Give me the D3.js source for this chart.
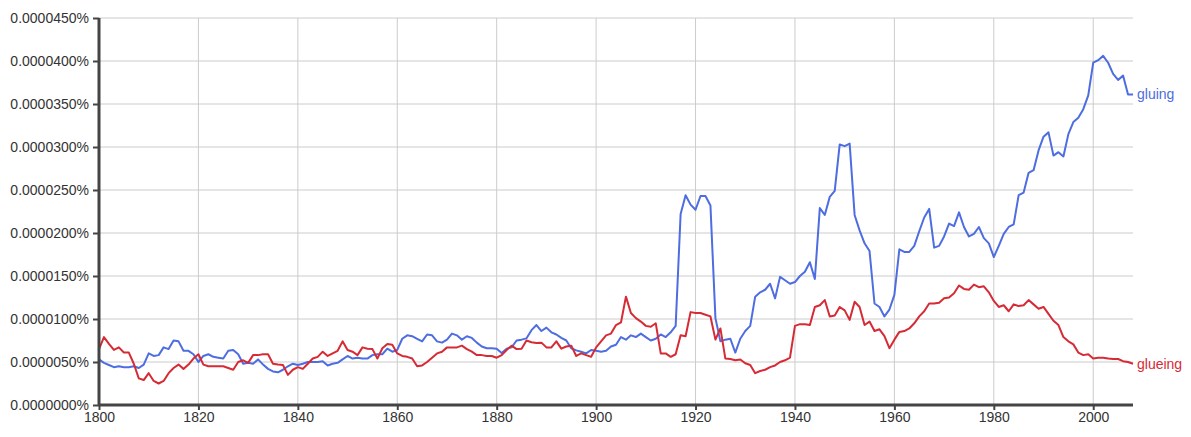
<!DOCTYPE html>
<html>
<head>
<meta charset="utf-8">
<script src="https://cdn.jsdelivr.net/npm/d3@7"></script>
<style>
body{margin:0;background:#fff;}
svg{display:block;font-family:"Liberation Sans",Arial,sans-serif;}
</style>
</head>
<body>
<svg id="chart" width="1191" height="437"></svg>
<script>
// Values in millionths of a percent (1 = 0.000001%)
const startYear = 1800;
const gluing = [
5.3,4.9,4.65,4.4,4.5,4.4,4.4,4.5,4.3,4.7,
6.0,5.7,5.8,6.7,6.5,7.5,7.4,6.3,6.3,5.9,
5.0,5.7,5.9,5.6,5.5,5.4,6.3,6.4,5.9,4.8,
4.9,4.8,5.3,4.7,4.2,3.9,3.8,4.1,4.5,4.8,
4.65,4.8,5.0,5.0,5.0,5.1,4.6,4.8,4.9,5.3,
5.7,5.4,5.5,5.4,5.4,5.8,5.9,5.9,6.55,6.2,
6.4,7.7,8.1,8.0,7.7,7.4,8.2,8.1,7.4,7.25,
7.6,8.3,8.1,7.6,8.0,7.8,7.25,6.8,6.6,6.6,
6.55,6.05,6.55,6.7,7.5,7.6,7.75,8.7,9.3,8.6,
9.0,8.45,8.2,7.8,7.5,6.6,6.35,6.2,6.0,6.4,
6.3,6.2,6.3,6.8,7.0,7.9,7.6,8.1,7.9,8.3,
7.9,7.5,7.7,8.2,7.9,8.45,9.2,22.2,24.4,23.3,
22.7,24.3,24.3,23.2,10.1,7.4,7.6,7.7,6.1,7.7,
8.6,9.2,12.6,13.1,13.4,14.1,12.4,14.9,14.5,14.1,
14.3,15.0,15.5,16.6,14.65,22.9,22.1,24.2,24.9,30.3,
30.1,30.4,22.1,20.3,18.8,17.9,11.8,11.4,10.3,11.1,
12.8,18.1,17.8,17.8,18.5,20.2,21.8,22.8,18.3,18.5,
19.6,21.1,20.8,22.4,20.7,19.6,19.9,20.7,19.4,18.8,
17.2,18.5,19.9,20.7,21.0,24.4,24.7,27.0,27.3,29.6,
31.2,31.7,29.0,29.4,28.9,31.5,32.9,33.4,34.4,36.0,
39.8,40.1,40.6,39.8,38.5,37.8,38.3,36.1,36.1
];
const glueing = [
6.5,7.9,7.1,6.4,6.7,6.1,6.1,4.8,3.1,2.9,
3.7,2.8,2.5,2.8,3.7,4.3,4.7,4.2,4.7,5.4,
5.9,4.7,4.5,4.5,4.5,4.5,4.3,4.1,5.0,5.2,
4.9,5.8,5.8,5.9,5.9,4.8,4.7,4.65,3.5,4.1,
4.4,4.2,4.8,5.4,5.6,6.2,5.7,6.0,6.3,7.4,
6.4,6.2,5.8,6.7,6.55,6.5,5.4,6.6,7.1,7.0,
6.0,5.7,5.6,5.4,4.5,4.6,5.0,5.5,6.0,6.2,
6.7,6.7,6.7,6.9,6.5,6.2,5.8,5.8,5.7,5.7,
5.5,5.8,6.4,6.9,6.5,6.55,7.5,7.3,7.2,7.25,
6.7,6.7,7.4,6.55,6.8,6.9,5.7,6.0,5.8,5.6,
6.7,7.4,8.1,8.3,9.3,9.6,12.6,10.7,10.1,9.7,
9.2,9.1,9.5,6.0,6.0,5.6,5.9,8.1,8.0,10.8,
10.7,10.7,10.5,10.3,7.6,8.9,5.4,5.35,5.2,5.3,
4.85,4.65,3.7,3.95,4.1,4.4,4.6,5.0,5.2,5.5,
9.2,9.4,9.4,9.3,11.4,11.6,12.2,10.3,10.4,11.4,
11.0,9.9,12.0,11.4,9.3,9.7,8.6,8.8,8.0,6.6,
7.6,8.5,8.6,8.9,9.5,10.3,10.9,11.8,11.8,11.9,
12.4,12.5,13.0,13.9,13.5,13.4,14.0,13.7,13.8,13.1,
12.1,11.4,11.6,10.9,11.7,11.5,11.6,12.2,11.7,11.2,
11.4,10.6,9.8,9.3,7.9,7.4,7.05,6.1,5.8,5.9,
5.4,5.5,5.5,5.4,5.35,5.35,5.1,5.0,4.8
];
const yTicks = [0,5,10,15,20,25,30,35,40,45];
const xTicks = [1800,1820,1840,1860,1880,1900,1920,1940,1960,1980,2000];
const seriesNames = ["gluing","glueing"];
const seriesColors = ["#4d6de0","#d62a35"];

const svg = d3.select("#chart");
const mLeft = 99, mRight = 1133, mTop = 18, mBottom = 405;
const years = gluing.map((_, i) => startYear + i);
const x = d3.scaleLinear().domain([1800, 2008]).range([mLeft, mRight]);
const y = d3.scaleLinear().domain([0, 45]).range([mBottom, mTop]);

// gridlines
svg.append("g").selectAll("line").data(yTicks.filter(d => d > 0)).join("line")
  .attr("x1", mLeft).attr("x2", mRight)
  .attr("y1", d => y(d)).attr("y2", d => y(d))
  .attr("stroke", "#cccccc").attr("stroke-width", 1);
svg.append("g").selectAll("line").data(xTicks.filter(d => d > 1800)).join("line")
  .attr("x1", d => x(d)).attr("x2", d => x(d))
  .attr("y1", mTop).attr("y2", mBottom)
  .attr("stroke", "#cccccc").attr("stroke-width", 1);

// lines
const line = d3.line().x((d, i) => x(years[i])).y(d => y(d));
[gluing, glueing].forEach((s, k) => {
  svg.append("path").datum(s).attr("d", line)
    .attr("fill", "none").attr("stroke", seriesColors[k])
    .attr("stroke-width", 2).attr("stroke-linejoin", "round");
  svg.append("text")
    .attr("x", x(2008) + 4).attr("y", y(s[s.length - 1]))
    .attr("dy", "0.35em")
    .attr("fill", seriesColors[k]).attr("font-size", 14)
    .text(seriesNames[k]);
});

// axes
const yAxis = d3.axisLeft(y).tickValues(yTicks).tickSize(6).tickPadding(4)
  .tickFormat(d => (d * 1e-6).toFixed(7) + "%");
const gy = svg.append("g").attr("transform", `translate(${mLeft},0)`).call(yAxis);
const xAxis = d3.axisBottom(x).tickValues(xTicks).tickSize(5).tickPadding(2)
  .tickFormat(d3.format("d"));
const gx = svg.append("g").attr("transform", `translate(0,${mBottom})`).call(xAxis);
[gy, gx].forEach(g => {
  g.select(".domain").attr("stroke", "#444").attr("stroke-width", 3);
  g.selectAll(".tick line").attr("stroke", "#444").attr("stroke-width", 2);
  g.selectAll(".tick text").attr("fill", "#333").attr("font-size", 14)
    .attr("font-family", "'Liberation Sans', Arial, sans-serif");
});
gy.select(".domain").attr("d", `M0,${mBottom}V${mTop}`);
gx.select(".domain").attr("d", `M${mLeft},0H${mRight}`);
</script>
</body>
</html>
